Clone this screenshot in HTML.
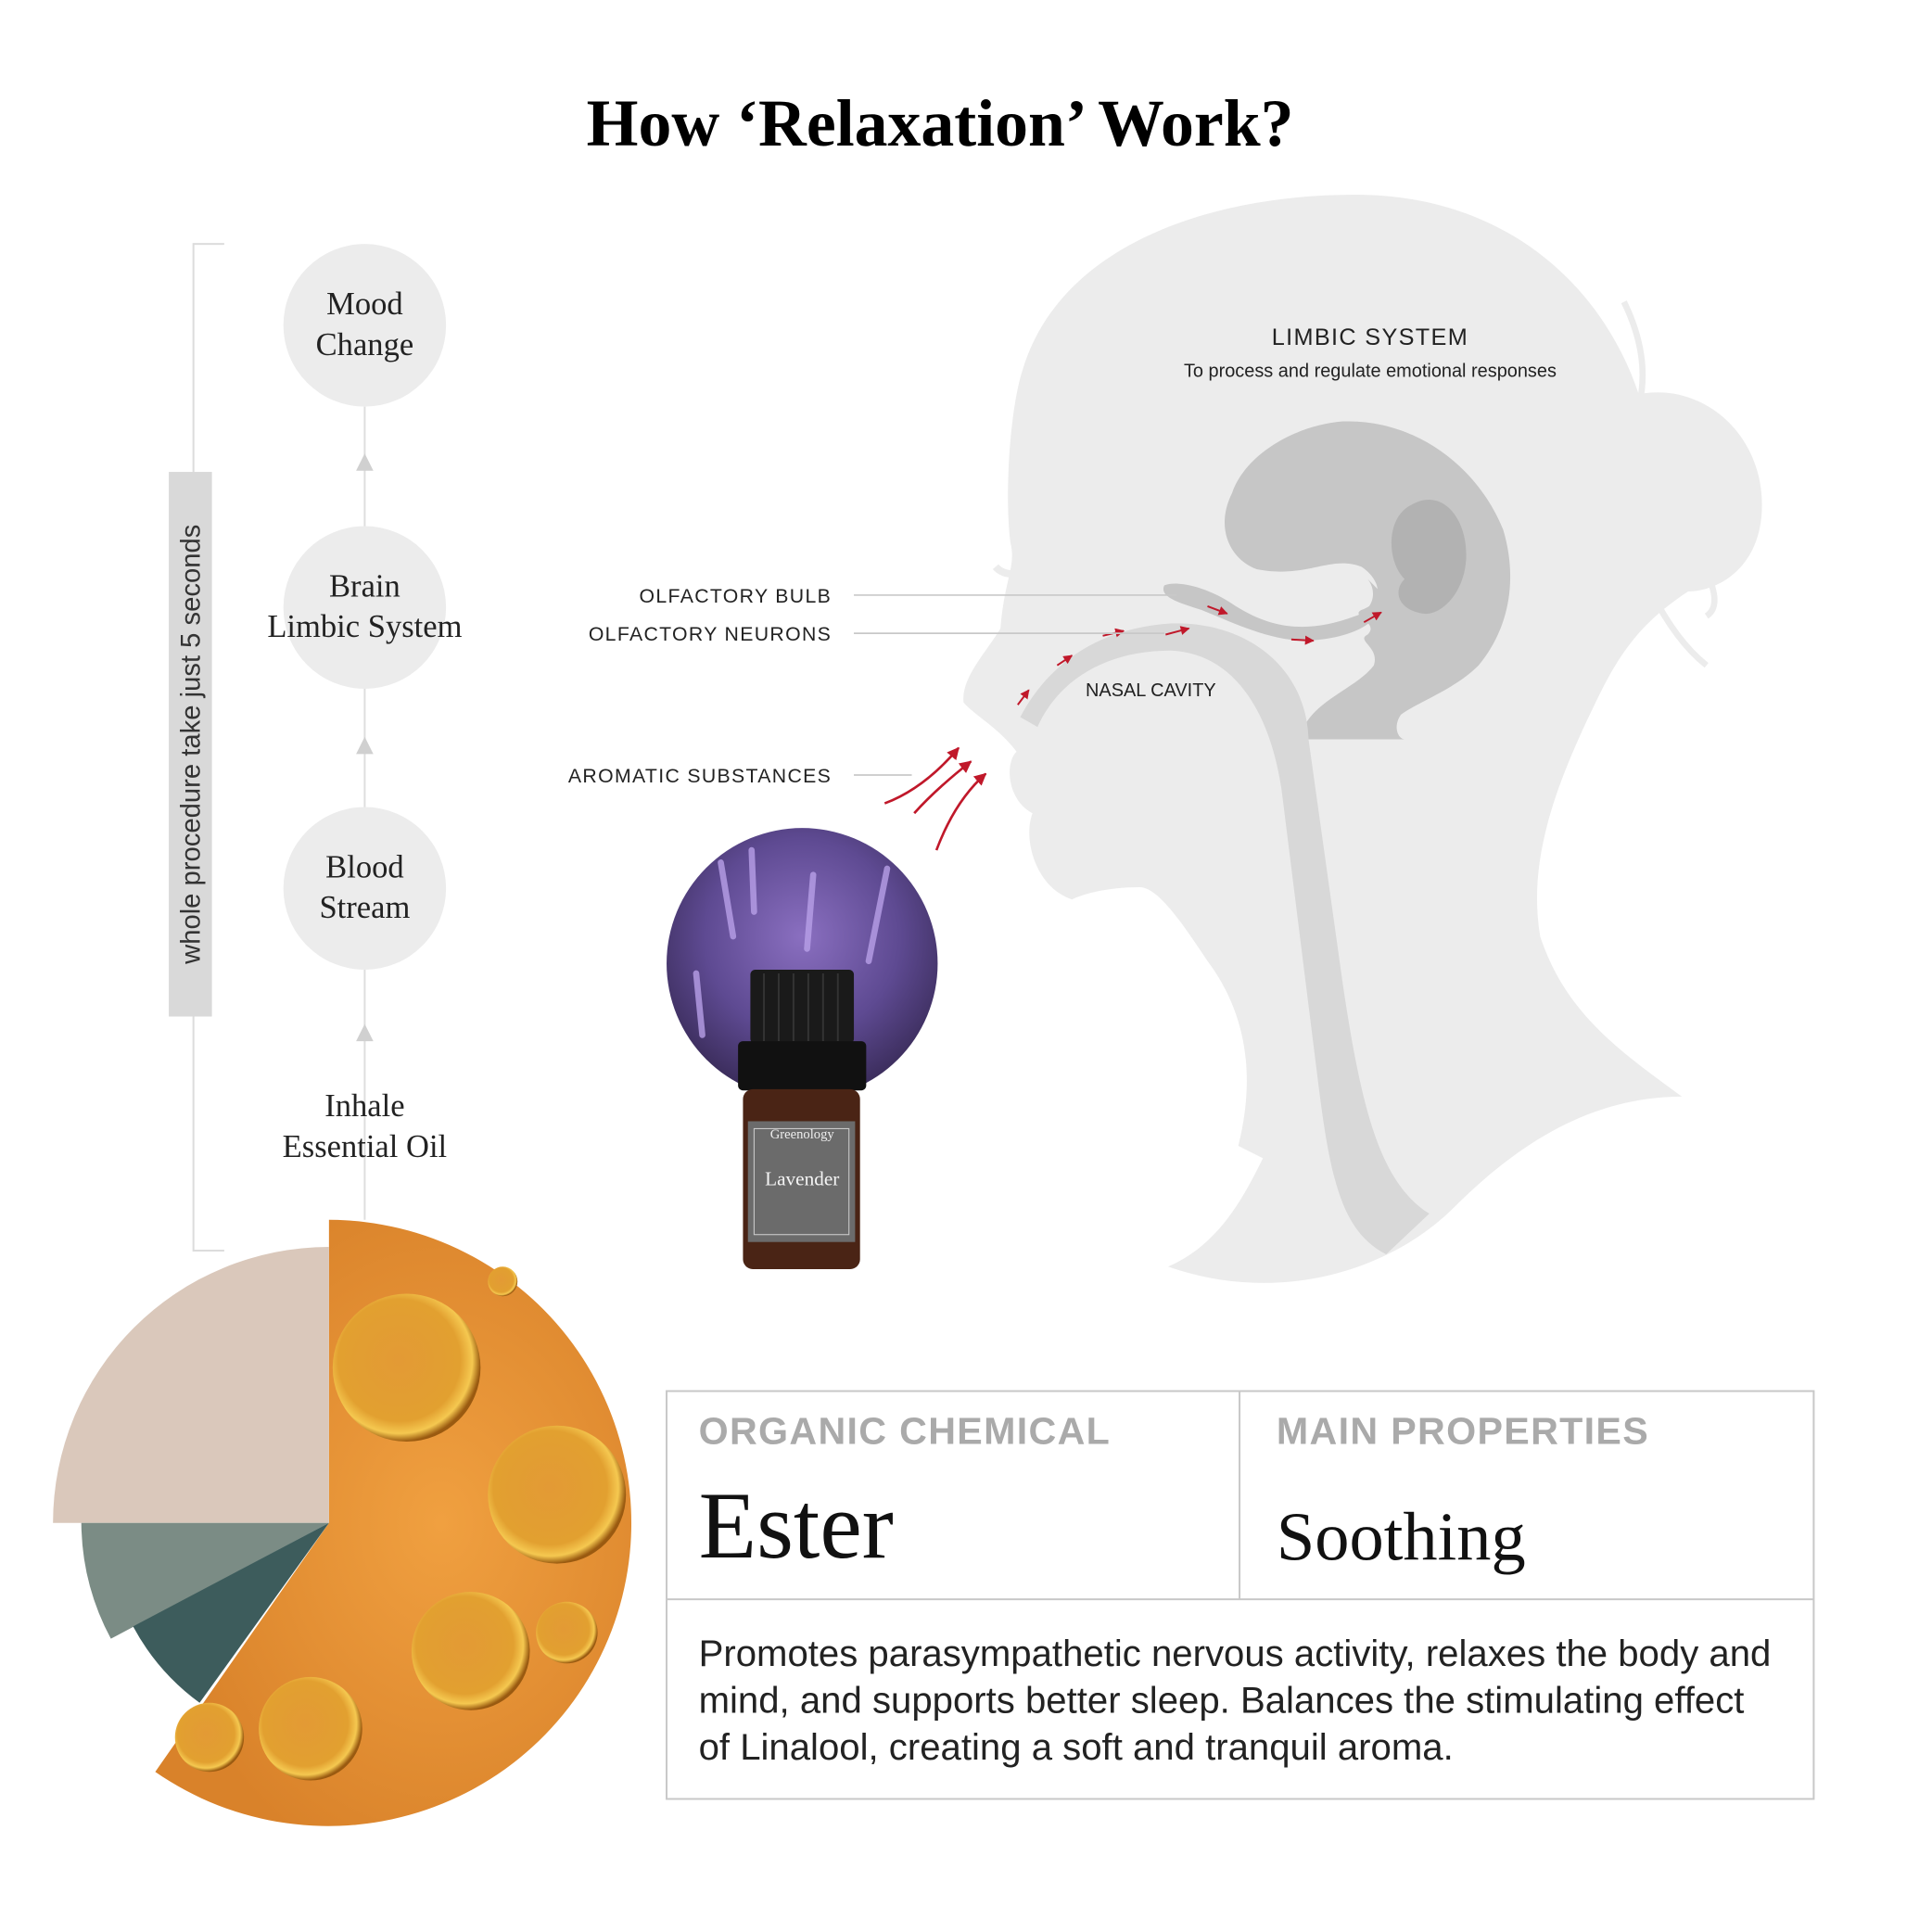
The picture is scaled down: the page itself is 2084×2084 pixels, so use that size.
<!DOCTYPE html>
<html><head><meta charset="utf-8"><style>
html,body{margin:0;padding:0;background:#fff;}
svg{display:block;}
</style></head><body>
<svg width="2084" height="2084" viewBox="0 0 1568 1568" xmlns="http://www.w3.org/2000/svg">
<defs>
<radialGradient id="lav" cx="50%" cy="40%" r="60%">
<stop offset="0" stop-color="#8a6fc0"/><stop offset="0.6" stop-color="#5e4a92"/><stop offset="1" stop-color="#3a2c5a"/>
</radialGradient>
<radialGradient id="oil" cx="60%" cy="50%" r="60%">
<stop offset="0" stop-color="#f0a040"/><stop offset="1" stop-color="#d9822a"/>
</radialGradient>
<radialGradient id="bub" cx="45%" cy="45%" r="55%">
<stop offset="0" stop-color="#e39a35"/><stop offset="0.75" stop-color="#e2a030"/><stop offset="0.9" stop-color="#f5c850"/><stop offset="1" stop-color="#9a5a10"/>
</radialGradient>
<marker id="ar" viewBox="0 0 10 10" refX="9" refY="5" markerWidth="5" markerHeight="5" orient="auto"><path d="M0,0L10,5L0,10z" fill="#c0182a"/></marker>
</defs>
<rect width="1568" height="1568" fill="#fff"/>
<text x="763" y="118" text-anchor="middle" font-family="Liberation Serif, serif" font-weight="bold" font-size="54" fill="#000">How ‘Relaxation’ Work?</text>

<path d="M830,300 C860,200 980,158 1100,158 C1220,158 1300,230 1330,320 C1380,310 1430,350 1430,410 C1430,460 1395,480 1370,480 C1340,500 1320,520 1300,560 C1260,640 1240,700 1250,760 C1270,820 1310,850 1365,890 C1290,890 1230,930 1180,980 C1130,1030 1040,1060 948,1028 C990,1010 1010,970 1025,940 L1005,930 C1020,870 1010,820 980,780 C960,750 940,720 925,720 C900,720 880,725 870,730 C840,720 830,680 838,660 C818,650 815,620 825,610 C810,590 790,580 782,570 C780,550 800,530 812,510 C815,470 825,460 820,440 C815,400 820,330 830,300Z" fill="#ececec"/>
<path d="M808,460 Q815,468 830,465" stroke="#ececec" stroke-width="6" fill="none"/>
<path d="M1318,245 Q1340,290 1330,330 M1380,455 Q1400,490 1385,500 M1340,480 Q1360,520 1385,540" stroke="#ececec" stroke-width="5" fill="none"/>
<path d="M1055,600 C1060,570 1100,560 1115,540 C1120,525 1100,520 1110,515 C1120,505 1095,500 1105,495 C1125,488 1120,470 1105,460 C1080,450 1060,470 1020,462 C1000,455 985,430 1000,400 C1010,370 1050,345 1090,342 C1150,340 1200,380 1220,430 C1232,470 1225,510 1200,540 C1180,560 1150,570 1137,580 C1130,590 1135,600 1140,600Z" fill="#c6c6c6"/>
<path d="M1145,410 C1170,395 1190,420 1190,450 C1190,480 1170,500 1155,498 C1135,495 1130,480 1140,470 C1125,455 1125,420 1145,410Z" fill="#b2b2b2"/>
<path d="M945,475 C960,470 985,480 1000,490 C1030,510 1060,515 1100,500 C1115,495 1118,480 1110,470 L1125,485 C1120,505 1100,518 1060,520 C1030,520 1000,505 975,495 C960,490 940,485 945,475Z" fill="#c6c6c6"/>
<path d="M828,582 C850,540 890,510 950,506 C1010,504 1060,540 1062,600 L1090,800 C1105,900 1120,960 1160,985 L1125,1018 C1090,1000 1080,960 1070,880 L1040,640 C1030,575 1000,530 950,528 C900,528 860,550 842,590Z" fill="#d8d8d8"/>
<g stroke="#c0182a" stroke-width="1.5" fill="none" marker-end="url(#ar)">
<line x1="826" y1="572" x2="835" y2="560"/><line x1="858" y1="540" x2="870" y2="532"/>
<line x1="895" y1="516" x2="912" y2="512"/><line x1="946" y1="515" x2="965" y2="510"/>
<line x1="980" y1="492" x2="996" y2="498"/><line x1="1048" y1="519" x2="1066" y2="520"/>
<line x1="1107" y1="505" x2="1121" y2="497"/>
<path d="M718,652 Q750,640 778,607" stroke-width="2"/>
<path d="M742,660 Q760,640 788,618" stroke-width="2"/>
<path d="M760,690 Q775,650 800,628" stroke-width="2"/>
</g>
<g font-family="Liberation Sans, sans-serif" fill="#222">
<text x="1112" y="280" text-anchor="middle" font-size="19" letter-spacing="1">LIMBIC SYSTEM</text>
<text x="1112" y="306" text-anchor="middle" font-size="15">To process and regulate emotional responses</text>
<text x="675" y="489" text-anchor="end" font-size="16" letter-spacing="1">OLFACTORY BULB</text>
<text x="675" y="520" text-anchor="end" font-size="16" letter-spacing="1">OLFACTORY NEURONS</text>
<text x="675" y="635" text-anchor="end" font-size="16" letter-spacing="1">AROMATIC SUBSTANCES</text>
<text x="934" y="565" text-anchor="middle" font-size="15">NASAL CAVITY</text>
</g>
<g stroke="#c8c8c8" stroke-width="1.3">
<line x1="693" y1="483" x2="955" y2="483"/><line x1="693" y1="514" x2="945" y2="514"/><line x1="693" y1="629" x2="740" y2="629"/>
</g>

<path d="M182,198 L157,198 L157,1015 L182,1015" stroke="#dcdcdc" stroke-width="1.5" fill="none"/>
<rect x="137" y="383" width="35" height="442" fill="#d9d9d9"/>
<text transform="translate(162,604) rotate(-90)" text-anchor="middle" font-family="Liberation Sans, sans-serif" font-size="22" fill="#333">whole procedure take just 5 seconds</text>
<line x1="296" y1="330" x2="296" y2="990" stroke="#dedede" stroke-width="1.5"/>
<g fill="#d0d0d0"><path d="M289,382 L296,368 L303,382Z"/><path d="M289,612 L296,598 L303,612Z"/><path d="M289,845 L296,831 L303,845Z"/></g>
<g fill="#ececec"><circle cx="296" cy="264" r="66"/><circle cx="296" cy="493" r="66"/><circle cx="296" cy="721" r="66"/></g>
<g font-family="Liberation Serif, serif" font-size="26" fill="#222" text-anchor="middle">
<text x="296" y="255">Mood</text><text x="296" y="288">Change</text>
<text x="296" y="484">Brain</text><text x="296" y="517">Limbic System</text>
<text x="296" y="712">Blood</text><text x="296" y="745">Stream</text>
<text x="296" y="906">Inhale</text><text x="296" y="939">Essential Oil</text>
</g>

<circle cx="651" cy="782" r="110" fill="url(#lav)"/>
<g stroke="#b8a0e8" stroke-width="5" stroke-linecap="round" opacity="0.8">
<line x1="585" y1="700" x2="595" y2="760"/><line x1="660" y1="710" x2="655" y2="770"/><line x1="720" y1="705" x2="705" y2="780"/><line x1="610" y1="690" x2="612" y2="740"/><line x1="565" y1="790" x2="570" y2="840"/>
</g>
<rect x="609" y="787" width="84" height="60" rx="4" fill="#1a1a1a"/>
<g stroke="#333" stroke-width="1.5"><line x1="620" y1="790" x2="620" y2="845"/><line x1="632" y1="790" x2="632" y2="845"/><line x1="644" y1="790" x2="644" y2="845"/><line x1="656" y1="790" x2="656" y2="845"/><line x1="668" y1="790" x2="668" y2="845"/><line x1="680" y1="790" x2="680" y2="845"/></g>
<rect x="599" y="845" width="104" height="40" rx="4" fill="#111"/>
<rect x="603" y="884" width="95" height="146" rx="8" fill="#4a2415"/>
<rect x="607" y="910" width="87" height="98" fill="#6b6b6b"/>
<rect x="612" y="916" width="77" height="86" fill="none" stroke="#ccc" stroke-width="0.8"/>
<text x="651" y="924" text-anchor="middle" font-family="Liberation Serif, serif" font-size="11" fill="#eee">Greenology</text>
<text x="651" y="962" text-anchor="middle" font-family="Liberation Serif, serif" font-size="16" fill="#f4f4f4">Lavender</text>

<path d="M267,1236 L267,990 A246,246 0 1 1 126,1438 Z" fill="url(#oil)"/>
<g fill="url(#bub)">
<circle cx="330" cy="1110" r="60"/><circle cx="452" cy="1213" r="56"/><circle cx="382" cy="1340" r="48"/><circle cx="252" cy="1403" r="42"/><circle cx="460" cy="1325" r="25"/><circle cx="170" cy="1410" r="28"/><circle cx="408" cy="1040" r="12"/>
</g>
<path d="M267,1236 L43,1236 A224,224 0 0 1 267,1012Z" fill="#dac8bb"/>
<path d="M267,1236 L66,1236 A202,202 0 0 0 90,1330 Z" fill="#7b8c85"/>
<path d="M267,1236 L108,1320 A185,185 0 0 0 162,1382 Z" fill="#3d5c5c"/>

<rect x="541" y="1129" width="931" height="331" fill="#fff" stroke="#c8c8c8" stroke-width="1.5"/>
<line x1="1006" y1="1129" x2="1006" y2="1298" stroke="#c8c8c8" stroke-width="1.5"/>
<line x1="541" y1="1298" x2="1472" y2="1298" stroke="#c8c8c8" stroke-width="1.5"/>
<g font-family="Liberation Sans, sans-serif" font-weight="bold" font-size="31" fill="#aaa" letter-spacing="1">
<text x="567" y="1172">ORGANIC CHEMICAL</text><text x="1036" y="1172">MAIN PROPERTIES</text>
</g>
<text x="567" y="1264" font-family="Liberation Serif, serif" font-size="77" fill="#111">Ester</text>
<text x="1036" y="1266" font-family="Liberation Serif, serif" font-size="56" fill="#111">Soothing</text>
<g font-family="Liberation Sans, sans-serif" font-size="30.2" fill="#222">
<text x="567" y="1352">Promotes parasympathetic nervous activity, relaxes the body and</text>
<text x="567" y="1390">mind, and supports better sleep. Balances the stimulating effect</text>
<text x="567" y="1428">of Linalool, creating a soft and tranquil aroma.</text>
</g>
</svg>
</body></html>
